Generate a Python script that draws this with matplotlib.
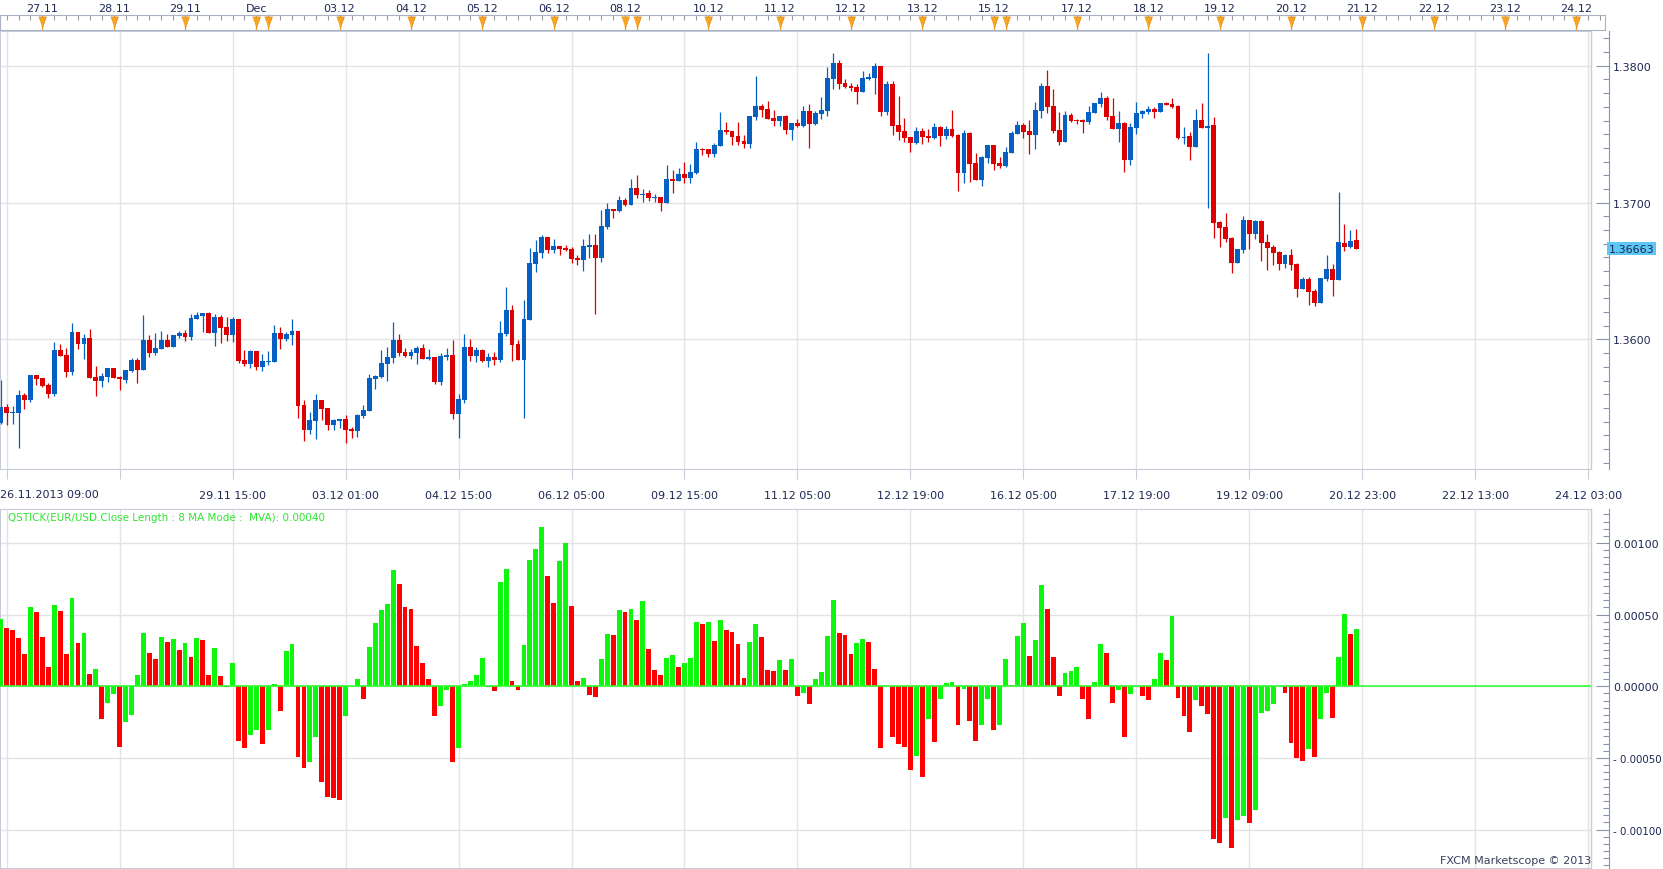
import matplotlib
matplotlib.use("Agg")
import matplotlib.pyplot as plt
import matplotlib.transforms as mtrans
import numpy as np
from matplotlib.ticker import MultipleLocator, FuncFormatter

# EUR/USD 2h candles, 26.11.2013 09:00 onwards
opens = [
    1.35392, 1.35504, 1.35465, 1.35465, 1.35594, 1.35557, 1.35740, 1.35718, 1.35669, 1.35601,
    1.35922, 1.35886, 1.35762, 1.36054, 1.35966, 1.36010, 1.35728, 1.35696, 1.35728, 1.35791,
    1.35728, 1.35703, 1.35769, 1.35849, 1.35776, 1.35995, 1.35900, 1.35932, 1.35995, 1.35944,
    1.36024, 1.36046, 1.36017, 1.36148, 1.36170, 1.36192, 1.36046, 1.36163, 1.36090, 1.36032,
    1.36148, 1.35849, 1.35820, 1.35915, 1.35798, 1.35837, 1.35835, 1.36046, 1.36002, 1.36032,
    1.36061, 1.35521, 1.35338, 1.35404, 1.35557, 1.35499, 1.35375, 1.35404, 1.35419, 1.35346,
    1.35331, 1.35441, 1.35477, 1.35711, 1.35725, 1.35820, 1.35864, 1.35995, 1.35908, 1.35878,
    1.35900, 1.35937, 1.35856, 1.35871, 1.35689, 1.35871, 1.35886, 1.35455, 1.35557, 1.35944,
    1.35878, 1.35922, 1.35842, 1.35871, 1.35849, 1.36039, 1.36214, 1.35966, 1.35849, 1.36141,
    1.36550, 1.36630, 1.36747, 1.36652, 1.36681, 1.36667, 1.36659, 1.36594, 1.36579, 1.36674,
    1.36689, 1.36594, 1.36820, 1.36951, 1.36937, 1.37017, 1.36981, 1.37105, 1.37054, 1.37068,
    1.37032, 1.37039, 1.36995, 1.37170, 1.37156, 1.37207, 1.37178, 1.37214, 1.37389, 1.37389,
    1.37353, 1.37411, 1.37528, 1.37521, 1.37484, 1.37448, 1.37426, 1.37623, 1.37703, 1.37681,
    1.37616, 1.37594, 1.37630, 1.37528, 1.37579, 1.37557, 1.37667, 1.37572, 1.37645, 1.37667,
    1.37900, 1.38017, 1.37871, 1.37849, 1.37842, 1.37805, 1.37900, 1.37908, 1.37995, 1.37659,
    1.37864, 1.37565, 1.37521, 1.37477, 1.37433, 1.37521, 1.37484, 1.37470, 1.37550, 1.37484,
    1.37535, 1.37491, 1.37214, 1.37506, 1.37287, 1.37163, 1.37324, 1.37419, 1.37287, 1.37265,
    1.37360, 1.37499, 1.37565, 1.37521, 1.37491, 1.37667, 1.37849, 1.37703, 1.37528, 1.37440,
    1.37637, 1.37601, 1.37601, 1.37586, 1.37652, 1.37718, 1.37762, 1.37630, 1.37535, 1.37579,
    1.37309, 1.37545, 1.37645, 1.37659, 1.37681, 1.37659, 1.37725, 1.37718, 1.37703, 1.37470,
    1.37484, 1.37404, 1.37601, 1.37545, 1.37565, 1.36857, 1.36820, 1.36740, 1.36557, 1.36652,
    1.36871, 1.36769, 1.36864, 1.36710, 1.36674, 1.36638, 1.36550, 1.36616, 1.36550, 1.36367,
    1.36440, 1.36353, 1.36265, 1.36440, 1.36513, 1.36433, 1.36703, 1.36678, 1.36725,
]
highs = [
    1.35703, 1.35528, 1.35514, 1.35630, 1.35608, 1.35740, 1.35740, 1.35718, 1.35681, 1.35981,
    1.35966, 1.35937, 1.36122, 1.36054, 1.36039, 1.36075, 1.35805, 1.35754, 1.35791, 1.35791,
    1.35732, 1.35776, 1.35864, 1.35864, 1.36178, 1.36032, 1.36046, 1.36061, 1.36039, 1.36032,
    1.36061, 1.36068, 1.36185, 1.36200, 1.36192, 1.36200, 1.36185, 1.36178, 1.36163, 1.36163,
    1.36148, 1.35922, 1.35922, 1.35915, 1.35893, 1.35915, 1.36105, 1.36090, 1.36054, 1.36148,
    1.36061, 1.35557, 1.35470, 1.35601, 1.35557, 1.35499, 1.35419, 1.35419, 1.35448, 1.35360,
    1.35455, 1.35521, 1.35747, 1.35740, 1.35922, 1.35944, 1.36127, 1.36039, 1.35937, 1.35930,
    1.35951, 1.35966, 1.35930, 1.35871, 1.35900, 1.35937, 1.35995, 1.35601, 1.36039, 1.36002,
    1.35944, 1.35930, 1.35900, 1.35908, 1.36134, 1.36382, 1.36251, 1.35995, 1.36287, 1.36667,
    1.36725, 1.36762, 1.36747, 1.36732, 1.36681, 1.36689, 1.36674, 1.36616, 1.36732, 1.36769,
    1.36769, 1.36944, 1.36995, 1.36951, 1.37046, 1.37032, 1.37170, 1.37199, 1.37097, 1.37090,
    1.37061, 1.37039, 1.37272, 1.37236, 1.37251, 1.37294, 1.37280, 1.37440, 1.37397, 1.37389,
    1.37433, 1.37659, 1.37586, 1.37521, 1.37586, 1.37491, 1.37630, 1.37929, 1.37718, 1.37740,
    1.37674, 1.37630, 1.37637, 1.37579, 1.37608, 1.37703, 1.37718, 1.37667, 1.37769, 1.37988,
    1.38090, 1.38039, 1.37900, 1.37878, 1.37864, 1.37961, 1.37951, 1.38017, 1.38002, 1.37886,
    1.37886, 1.37776, 1.37616, 1.37477, 1.37550, 1.37545, 1.37535, 1.37579, 1.37557, 1.37557,
    1.37674, 1.37499, 1.37528, 1.37513, 1.37360, 1.37338, 1.37419, 1.37419, 1.37331, 1.37404,
    1.37521, 1.37594, 1.37579, 1.37601, 1.37732, 1.37871, 1.37973, 1.37827, 1.37659, 1.37667,
    1.37652, 1.37608, 1.37608, 1.37703, 1.37725, 1.37805, 1.37776, 1.37762, 1.37667, 1.37586,
    1.37579, 1.37732, 1.37674, 1.37703, 1.37696, 1.37725, 1.37732, 1.37762, 1.37710, 1.37550,
    1.37513, 1.37681, 1.37725, 1.38097, 1.37623, 1.36864, 1.36922, 1.36747, 1.36659, 1.36900,
    1.36871, 1.36871, 1.36871, 1.36769, 1.36689, 1.36645, 1.36623, 1.36659, 1.36557, 1.36455,
    1.36455, 1.36367, 1.36448, 1.36616, 1.36550, 1.37075, 1.36842, 1.36800, 1.36805,
]
lows = [
    1.35382, 1.35377, 1.35382, 1.35207, 1.35492, 1.35543, 1.35669, 1.35655, 1.35572, 1.35586,
    1.35878, 1.35728, 1.35740, 1.35930, 1.35856, 1.35718, 1.35586, 1.35655, 1.35689, 1.35718,
    1.35630, 1.35681, 1.35762, 1.35681, 1.35776, 1.35871, 1.35886, 1.35932, 1.35944, 1.35944,
    1.36010, 1.35988, 1.35995, 1.36148, 1.36054, 1.36046, 1.35951, 1.35973, 1.35988, 1.35981,
    1.35827, 1.35805, 1.35791, 1.35776, 1.35769, 1.35813, 1.35835, 1.35930, 1.35988, 1.35959,
    1.35426, 1.35258, 1.35309, 1.35273, 1.35411, 1.35338, 1.35338, 1.35353, 1.35243, 1.35280,
    1.35287, 1.35426, 1.35477, 1.35637, 1.35718, 1.35696, 1.35827, 1.35878, 1.35871, 1.35856,
    1.35820, 1.35856, 1.35849, 1.35674, 1.35667, 1.35849, 1.35419, 1.35280, 1.35535, 1.35842,
    1.35835, 1.35835, 1.35798, 1.35813, 1.35835, 1.36024, 1.35842, 1.35849, 1.35426, 1.36141,
    1.36491, 1.36594, 1.36630, 1.36630, 1.36616, 1.36645, 1.36557, 1.36543, 1.36499, 1.36594,
    1.36185, 1.36565, 1.36805, 1.36886, 1.36930, 1.36973, 1.36981, 1.37032, 1.37002, 1.37010,
    1.37002, 1.36937, 1.36995, 1.37068, 1.37156, 1.37141, 1.37141, 1.37207, 1.37345, 1.37331,
    1.37331, 1.37411, 1.37499, 1.37419, 1.37419, 1.37397, 1.37397, 1.37601, 1.37623, 1.37608,
    1.37557, 1.37557, 1.37499, 1.37455, 1.37550, 1.37550, 1.37397, 1.37565, 1.37608, 1.37630,
    1.37827, 1.37827, 1.37835, 1.37813, 1.37718, 1.37805, 1.37893, 1.37791, 1.37630, 1.37637,
    1.37491, 1.37455, 1.37440, 1.37367, 1.37426, 1.37426, 1.37440, 1.37462, 1.37411, 1.37462,
    1.37477, 1.37083, 1.37141, 1.37148, 1.37163, 1.37119, 1.37287, 1.37236, 1.37251, 1.37258,
    1.37360, 1.37499, 1.37470, 1.37353, 1.37389, 1.37616, 1.37652, 1.37506, 1.37419, 1.37440,
    1.37586, 1.37572, 1.37506, 1.37572, 1.37652, 1.37696, 1.37601, 1.37535, 1.37440, 1.37222,
    1.37272, 1.37499, 1.37616, 1.37645, 1.37616, 1.37659, 1.37710, 1.37689, 1.37462, 1.37426,
    1.37309, 1.37404, 1.37545, 1.36959, 1.36740, 1.36674, 1.36710, 1.36484, 1.36557, 1.36630,
    1.36659, 1.36732, 1.36572, 1.36506, 1.36543, 1.36506, 1.36521, 1.36506, 1.36309, 1.36367,
    1.36251, 1.36243, 1.36265, 1.36426, 1.36316, 1.36433, 1.36645, 1.36667, 1.36659,
]
closes = [
    1.35504, 1.35465, 1.35470, 1.35594, 1.35557, 1.35740, 1.35711, 1.35659, 1.35601, 1.35922,
    1.35878, 1.35762, 1.36054, 1.35966, 1.36010, 1.35718, 1.35696, 1.35732, 1.35791, 1.35718,
    1.35708, 1.35776, 1.35849, 1.35776, 1.35995, 1.35900, 1.35937, 1.35995, 1.35944, 1.36032,
    1.36046, 1.36017, 1.36156, 1.36178, 1.36192, 1.36046, 1.36163, 1.36083, 1.36032, 1.36148,
    1.35842, 1.35820, 1.35915, 1.35798, 1.35842, 1.35842, 1.36046, 1.36002, 1.36039, 1.36061,
    1.35514, 1.35338, 1.35411, 1.35557, 1.35492, 1.35375, 1.35411, 1.35416, 1.35338, 1.35331,
    1.35448, 1.35484, 1.35718, 1.35732, 1.35827, 1.35871, 1.35995, 1.35900, 1.35878, 1.35908,
    1.35937, 1.35856, 1.35869, 1.35689, 1.35878, 1.35886, 1.35455, 1.35565, 1.35944, 1.35878,
    1.35922, 1.35842, 1.35871, 1.35849, 1.36046, 1.36214, 1.35959, 1.35849, 1.36148, 1.36557,
    1.36638, 1.36747, 1.36652, 1.36681, 1.36659, 1.36652, 1.36586, 1.36579, 1.36681, 1.36689,
    1.36594, 1.36827, 1.36951, 1.36937, 1.37017, 1.36981, 1.37105, 1.37054, 1.37066, 1.37032,
    1.37036, 1.36995, 1.37170, 1.37156, 1.37207, 1.37178, 1.37222, 1.37389, 1.37382, 1.37353,
    1.37419, 1.37528, 1.37513, 1.37477, 1.37440, 1.37426, 1.37630, 1.37703, 1.37674, 1.37608,
    1.37594, 1.37630, 1.37528, 1.37579, 1.37557, 1.37667, 1.37572, 1.37652, 1.37674, 1.37908,
    1.38017, 1.37864, 1.37842, 1.37835, 1.37805, 1.37908, 1.37915, 1.37995, 1.37659, 1.37864,
    1.37557, 1.37513, 1.37470, 1.37433, 1.37521, 1.37477, 1.37470, 1.37550, 1.37484, 1.37535,
    1.37484, 1.37214, 1.37506, 1.37280, 1.37163, 1.37331, 1.37419, 1.37280, 1.37265, 1.37367,
    1.37506, 1.37565, 1.37513, 1.37491, 1.37674, 1.37849, 1.37696, 1.37521, 1.37440, 1.37637,
    1.37594, 1.37594, 1.37586, 1.37659, 1.37725, 1.37762, 1.37623, 1.37535, 1.37579, 1.37309,
    1.37550, 1.37652, 1.37667, 1.37681, 1.37659, 1.37725, 1.37710, 1.37696, 1.37470, 1.37482,
    1.37404, 1.37601, 1.37545, 1.37560, 1.36849, 1.36813, 1.36732, 1.36557, 1.36659, 1.36871,
    1.36769, 1.36864, 1.36703, 1.36667, 1.36630, 1.36550, 1.36616, 1.36545, 1.36367, 1.36440,
    1.36346, 1.36265, 1.36448, 1.36513, 1.36433, 1.36710, 1.36678, 1.36718, 1.36663,
]

# QSTICK(8) indicator values
qstick = [
    0.000468, 0.000405, 0.000391, 0.000336, 0.000225, 0.000551, 0.000516, 0.000343, 0.000134, 0.000565,
    0.000523, 0.000225, 0.000613, 0.000301, 0.000370, 0.000086, 0.000120, -0.000227, -0.000116, -0.000053,
    -0.000421, -0.000248, -0.000199, 0.000079, 0.000370, 0.000231, 0.000190, 0.000343, 0.000308, 0.000329,
    0.000252, 0.000301, 0.000204, 0.000336, 0.000322, 0.000079, 0.000266, 0.000072, -0.000005, 0.000162,
    -0.000380, -0.000428, -0.000338, -0.000303, -0.000400, -0.000303, 0.000016, -0.000171, 0.000245, 0.000294,
    -0.000491, -0.000567, -0.000525, -0.000352, -0.000671, -0.000775, -0.000778, -0.000796, -0.000206, 0.000000,
    0.000051, -0.000088, 0.000273, 0.000440, 0.000530, 0.000572, 0.000815, 0.000711, 0.000551, 0.000537,
    0.000280, 0.000162, 0.000051, -0.000206, -0.000137, -0.000025, -0.000525, -0.000428, 0.000016, 0.000037,
    0.000079, 0.000197, -0.000005, -0.000032, 0.000725, 0.000822, 0.000037, -0.000025, 0.000287, 0.000884,
    0.000961, 0.001113, 0.000773, 0.000579, 0.000877, 0.001002, 0.000558, 0.000037, 0.000058, -0.000060,
    -0.000074, 0.000190, 0.000363, 0.000361, 0.000530, 0.000516, 0.000537, 0.000461, 0.000593, 0.000259,
    0.000113, 0.000079, 0.000197, 0.000218, 0.000134, 0.000162, 0.000197, 0.000447, 0.000433, 0.000447,
    0.000315, 0.000461, 0.000391, 0.000377, 0.000294, 0.000058, 0.000308, 0.000433, 0.000343, 0.000113,
    0.000106, 0.000183, 0.000113, 0.000190, -0.000067, -0.000046, -0.000123, 0.000051, 0.000100, 0.000350,
    0.000600, 0.000370, 0.000356, 0.000225, 0.000301, 0.000329, 0.000308, 0.000120, -0.000428, 0.000000,
    -0.000352, -0.000400, -0.000421, -0.000581, -0.000484, -0.000630, -0.000227, -0.000387, -0.000088, 0.000023,
    0.000030, -0.000269, -0.000019, -0.000241, -0.000380, -0.000269, -0.000088, -0.000303, -0.000269, 0.000190,
    0.000009, 0.000350, 0.000440, 0.000211, 0.000322, 0.000704, 0.000537, 0.000204, -0.000067, 0.000093,
    0.000106, 0.000134, -0.000088, -0.000227, 0.000030, 0.000294, 0.000231, -0.000116, -0.000025, -0.000352,
    -0.000053, 0.000000, -0.000067, -0.000095, 0.000051, 0.000231, 0.000183, 0.000488, -0.000081, -0.000206,
    -0.000317, -0.000095, -0.000137, -0.000192, -0.001067, -0.001095, -0.000921, -0.001130, -0.000935, -0.000907,
    -0.000956, -0.000866, -0.000185, -0.000171, -0.000123, 0.000000, -0.000046, -0.000394, -0.000498, -0.000519,
    -0.000435, -0.000491, -0.000227, -0.000046, -0.000220, 0.000204, 0.000502, 0.000363, 0.000398,
]

# bottom time axis (bar index -> label)
grid_idx = [1, 20, 39, 58, 77, 96, 115, 134, 153, 172, 191, 210, 229, 248, 267]
time_labels = ["", "", "29.11 15:00", "03.12 01:00", "04.12 15:00", "06.12 05:00",
               "09.12 15:00", "11.12 05:00", "12.12 19:00", "16.12 05:00", "17.12 19:00",
               "19.12 09:00", "20.12 23:00", "22.12 13:00", "24.12 03:00"]
first_label = "26.11.2013 09:00"

# top day ruler
marker_idx = [7, 19, 31, 43, 45, 57, 69, 81, 93, 105, 107, 119, 131, 143, 155,
              167, 169, 181, 193, 205, 217, 229, 241, 253, 265]
day_idx = [7, 19, 31, 43, 57, 69, 81, 93, 105, 119, 131, 143, 155, 167, 181,
           193, 205, 217, 229, 241, 253, 265]
day_labels = ["27.11", "28.11", "29.11", "Dec", "03.12", "04.12", "05.12", "06.12",
              "08.12", "10.12", "11.12", "12.12", "13.12", "15.12", "17.12", "18.12",
              "19.12", "20.12", "21.12", "22.12", "23.12", "24.12"]

price_ticks = [1.36, 1.37, 1.38]
qs_ticks = [-0.001, -0.0005, 0.0, 0.0005, 0.001]

BLUE = "#0560c4"
RED = "#dc0000"
H_GREEN = "#0cf70c"
H_RED = "#ff0000"
ZERO_GREEN = "#33ff33"
GRID = "#e3e3e3"
FRAME = "#c6ccd8"
AXIS = "#8a93ad"
TXT = "#1d2753"
ORANGE = "#f7a425"

plt.rcParams["font.family"] = "DejaVu Sans"
W, H = 1663, 870
fig = plt.figure(figsize=(W / 100, H / 100), dpi=100)


def box(x0, y0, x1, y1):
    return fig.add_axes([x0 / W, 1 - y1 / H, (x1 - x0) / W, (y1 - y0) / H])


BAR0, BAR_PX = 0.7, 5.946  # pixel position of bar 0 and pixels per bar


def bar_lim(px0, px1):
    return ((px0 - BAR0) / BAR_PX, (px1 - BAR0) / BAR_PX)


def right_axis(ax):
    ax.yaxis.tick_right()
    ax.spines["right"].set_position(("outward", 13))
    ax.spines["right"].set_color(AXIS)
    for s in ("top", "left", "bottom"):
        ax.spines[s].set_color(FRAME)
    ax.plot([1, 1], [0, 1], transform=ax.transAxes, color=FRAME, lw=1, clip_on=False)
    ax.tick_params(axis="y", which="major", direction="in", length=9.4, width=0.8,
                   color=AXIS, labelsize=8, labelcolor=TXT, pad=3)
    ax.tick_params(axis="y", which="minor", direction="in", length=4.3, width=0.8, color=AXIS)
    ax.set_axisbelow(True)
    ax.grid(True, which="major", color=GRID, lw=1)


o, hi, lo, c = (np.array(a) for a in (opens, highs, lows, closes))
idx = np.arange(len(c))

# ---- price pane
ax = box(0, 32, 1591, 470)
col = np.where(c >= o, BLUE, RED)
ax.vlines(idx, lo, hi, colors=col, lw=0.9, zorder=2)
body = np.maximum(np.abs(c - o), 0.00008)
ax.bar(idx, body, bottom=np.minimum(o, c), width=0.82, color=col, lw=0, zorder=3)
ax.set_xlim(*bar_lim(0, 1591))
ax.set_ylim(1.350534, 1.382544)
ax.set_xticks(grid_idx)
ax.set_xticklabels(time_labels)
ax.tick_params(axis="x", direction="out", length=7, color=FRAME, labelsize=8,
               labelcolor=TXT, pad=8)
ax.set_yticks(price_ticks)
ax.yaxis.set_major_formatter(FuncFormatter(lambda v, p: f"{v:.4f}"))
ax.yaxis.set_minor_locator(MultipleLocator(0.001))
right_axis(ax)
fig.text(0.5 / W, 1 - 495 / H, first_label, ha="left", va="center", fontsize=8, color=TXT)

tr = mtrans.blended_transform_factory(ax.transAxes, ax.transData)
ax.text(1609 / 1591, c[-1], f"{c[-1]:.5f}", transform=tr, ha="left", va="center",
        fontsize=8, color=TXT, clip_on=False,
        bbox=dict(boxstyle="square,pad=0.15", fc="#5cc6f4", ec="none"))

# ---- QSTICK pane
ax2 = box(0, 510, 1591, 869)
q = np.array(qstick)
hcol = [H_GREEN] + [H_GREEN if q[i] >= q[i - 1] else H_RED for i in range(1, len(q))]
ax2.bar(idx, q, width=0.82, color=hcol, lw=0, zorder=3)
ax2.axhline(0, color=ZERO_GREEN, lw=1.2, zorder=4)
ax2.set_xlim(*bar_lim(0, 1591))
ax2.set_ylim(-0.001268, 0.0012373)
ax2.set_xticks(grid_idx)
ax2.tick_params(axis="x", length=0, labelbottom=False)
ax2.set_yticks(qs_ticks)
ax2.yaxis.set_major_formatter(
    FuncFormatter(lambda v, p: f"{v:.5f}" if v > -1e-12 else f"- {abs(v):.5f}"))
ax2.yaxis.set_minor_locator(MultipleLocator(0.00005))
right_axis(ax2)
# the negative labels are wider: shrink them a little so they stay inside the image
for t, v in zip(ax2.yaxis.get_major_ticks(), qs_ticks):
    if v < 0:
        t.label2.set_fontsize(7.4)
fig.text(8 / W, 1 - 518 / H,
         f"QSTICK(EUR/USD.Close Length : 8 MA Mode :  MVA): {q[-1]:.5f}",
         ha="left", va="center", fontsize=7.5, color="#2ee62e")
fig.text(1591 / W, 1 - 861 / H, "FXCM Marketscope \u00a9 2013", ha="right", va="center",
         fontsize=8, color="#3a3f5c")

# ---- top day ruler
axr = box(0, 16, 1605, 31)
axr.set_xlim(*bar_lim(0, 1605))
axr.set_ylim(0, 1)
axr.set_xticks([])
axr.set_yticks([])
for s in axr.spines.values():
    s.set_color("#a9b2c5")
axr.vlines(np.arange(1, 270, 2), 0.68, 1.0, color="#9a9a9a", lw=0.8)
axr.vlines(marker_idx, 0, 0.5, color=ORANGE, lw=1)
tri = [(-0.35, 0.5), (0.35, 0.5), (0.0, -0.5)]
axr.plot(marker_idx, [0.55] * len(marker_idx), ls="none", marker=tri, ms=8,
         color=ORANGE, mec="#e08a10", mew=0.5)
trr = mtrans.blended_transform_factory(axr.transData, fig.transFigure)
for i, lab in zip(day_idx, day_labels):
    axr.text(i, 1 - 9 / H, lab, transform=trr, ha="center", va="center",
             fontsize=8, color=TXT, clip_on=False)

fig.savefig("out.png", dpi=100, facecolor="white")
